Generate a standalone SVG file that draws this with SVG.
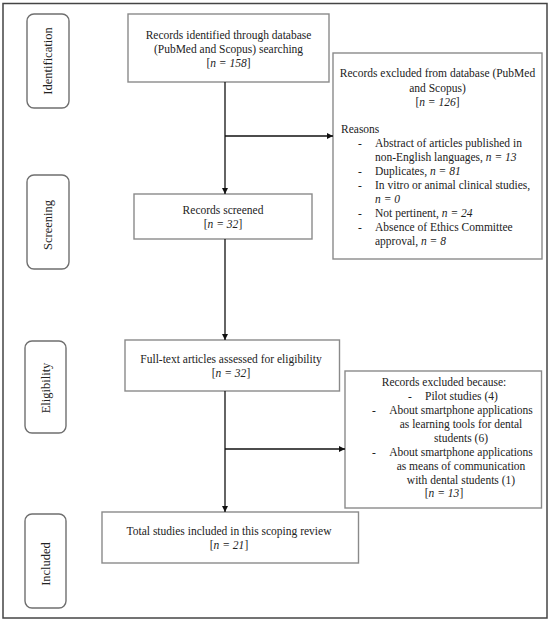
<svg xmlns="http://www.w3.org/2000/svg" width="550" height="624" viewBox="0 0 550 624">
<defs>
<marker id="arr" viewBox="0 0 10 10" refX="10" refY="5" markerWidth="6" markerHeight="6" markerUnits="userSpaceOnUse" orient="auto">
<path d="M0,0 L10,5 L0,10 z" fill="#111"/>
</marker>
<style>
.frame{fill:#fff;stroke:#444;stroke-width:1.5}
.box{fill:#fff;stroke:#8a8a8a;stroke-width:1.4}
.side{fill:#fff;stroke:#6f6f6f;stroke-width:1.4}
text{font-family:"Liberation Serif","Times New Roman",serif;font-size:11.5px;fill:#222}
.c{text-anchor:middle}
.lab{font-size:12.5px;text-anchor:middle}
.it{font-style:italic}
.con{stroke:#111;stroke-width:1.3;fill:none}
</style>
</defs>
<rect class="frame" x="3" y="3.5" width="544" height="614.5"/>

<g id="side-identification">
<rect class="side" x="27" y="14" width="42" height="94" rx="7"/>
<text class="lab" transform="translate(52,61) rotate(-90)">Identification</text>
</g>
<g id="side-screening">
<rect class="side" x="27" y="175" width="42" height="94" rx="7"/>
<text class="lab" transform="translate(52,225) rotate(-90)">Screening</text>
</g>
<g id="side-eligibility">
<rect class="side" x="25" y="341" width="41" height="92" rx="7"/>
<text class="lab" transform="translate(50,388) rotate(-90)">Eligibility</text>
</g>
<g id="side-included">
<rect class="side" x="25" y="514" width="41" height="94" rx="7"/>
<text class="lab" transform="translate(50,564) rotate(-90)">Included</text>
</g>

<g id="node-identified">
<rect class="box" x="128" y="14" width="201" height="68"/>
<text class="c" x="228.5" y="39">Records identified through database</text>
<text class="c" x="228.5" y="53">(PubMed and Scopus) searching</text>
<text class="c" x="228.5" y="67">[<tspan class="it">n = 158</tspan>]</text>
</g>

<g id="node-excluded-db">
<rect class="box" x="333" y="53" width="209" height="206"/>
<text class="c" x="437.5" y="77">Records excluded from database (PubMed</text>
<text class="c" x="437.5" y="92">and Scopus)</text>
<text class="c" x="437.5" y="106">[<tspan class="it">n = 126</tspan>]</text>
<text x="341" y="133">Reasons</text>
<text x="358" y="147">-</text><text x="375" y="147">Abstract of articles published in</text>
<text x="375" y="161">non-English languages, <tspan class="it">n = 13</tspan></text>
<text x="358" y="175">-</text><text x="375" y="175">Duplicates, <tspan class="it">n = 81</tspan></text>
<text x="358" y="189">-</text><text x="375" y="189">In vitro or animal clinical studies,</text>
<text x="375" y="203" class="it">n = 0</text>
<text x="358" y="217">-</text><text x="375" y="217">Not pertinent, <tspan class="it">n = 24</tspan></text>
<text x="358" y="231">-</text><text x="375" y="231">Absence of Ethics Committee</text>
<text x="375" y="245">approval, <tspan class="it">n = 8</tspan></text>
</g>

<g id="node-screened">
<rect class="box" x="134" y="194" width="178" height="45"/>
<text class="c" x="223" y="214">Records screened</text>
<text class="c" x="223" y="228">[<tspan class="it">n = 32</tspan>]</text>
</g>

<g id="node-fulltext">
<rect class="box" x="125" y="340" width="214.5" height="51"/>
<text class="c" x="231" y="363">Full-text articles assessed for eligibility</text>
<text class="c" x="231" y="377">[<tspan class="it">n = 32</tspan>]</text>
</g>

<g id="node-excluded-because">
<rect class="box" x="345" y="371" width="196.5" height="137"/>
<text class="c" x="444" y="386">Records excluded because:</text>
<text x="408" y="400">-</text><text x="425" y="400">Pilot studies (4)</text>
<text x="372" y="414">-</text><text class="c" x="461" y="414">About smartphone applications</text>
<text class="c" x="461" y="428">as learning tools for dental</text>
<text class="c" x="461" y="442">students (6)</text>
<text x="372" y="456">-</text><text class="c" x="461" y="456">About smartphone applications</text>
<text class="c" x="461" y="470">as means of communication</text>
<text class="c" x="461" y="484">with dental students (1)</text>
<text class="c" x="444" y="497">[<tspan class="it">n = 13</tspan>]</text>
</g>

<g id="node-included">
<rect class="box" x="102" y="512" width="256.5" height="51"/>
<text class="c" x="229" y="535">Total studies included in this scoping review</text>
<text class="c" x="229" y="549">[<tspan class="it">n = 21</tspan>]</text>
</g>

<g id="connectors">
<line class="con" x1="225" y1="82" x2="225" y2="194" marker-end="url(#arr)"/>
<line class="con" x1="225" y1="136" x2="333" y2="136" marker-end="url(#arr)"/>
<line class="con" x1="225" y1="239" x2="225" y2="340" marker-end="url(#arr)"/>
<line class="con" x1="225" y1="391" x2="225" y2="512" marker-end="url(#arr)"/>
<line class="con" x1="225" y1="449" x2="345" y2="449" marker-end="url(#arr)"/>
</g>
</svg>
